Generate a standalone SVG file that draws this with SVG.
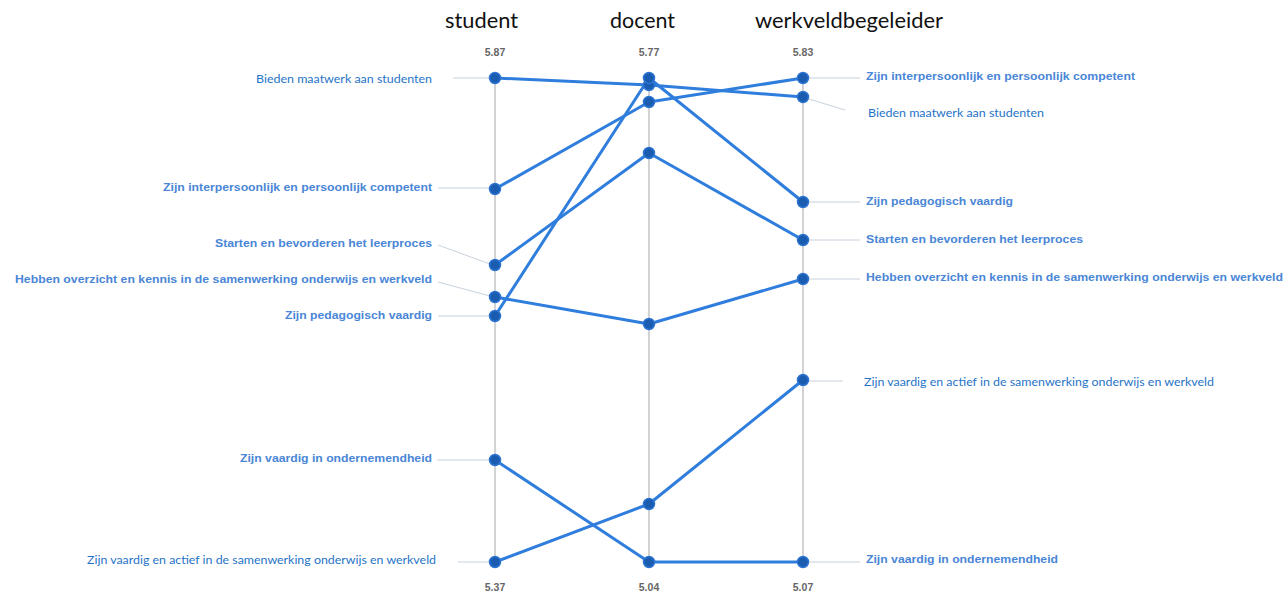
<svg xmlns="http://www.w3.org/2000/svg" width="1284" height="595" viewBox="0 0 1284 595">
  <style>
    .hdr { font-family: Lato, "Open Sans", sans-serif; font-size: 21px; fill: #111; text-anchor: middle; }
    .val { font-family: "Liberation Sans", Arial, sans-serif; font-size: 10.5px; font-weight: bold; fill: #666; text-anchor: middle; }
    .lbl { font-family: "Liberation Sans", Arial, sans-serif; font-size: 11px; font-weight: bold; fill: #4a86d6; }
    .lbl2 { font-family: Lato, "Open Sans", sans-serif; font-size: 12px; fill: #1f74c8; }
    .axis { stroke: #d3d3d6; stroke-width: 2; }
    .lead { stroke: #c8d2de; stroke-width: 1; fill: none; }
    .ser { stroke: #2f7ddc; stroke-width: 3; fill: none; stroke-linejoin: round; }
    .dot { fill: #1a5cb0; stroke: #2d74d2; stroke-width: 1.5; }
  </style>
  <rect width="1284" height="595" fill="#ffffff"/>

  <!-- column headers -->
  <g id="headers">
    <text class="hdr" x="481.5" y="28" textLength="73" lengthAdjust="spacingAndGlyphs">student</text>
    <text class="hdr" x="642.5" y="28" textLength="65" lengthAdjust="spacingAndGlyphs">docent</text>
    <text class="hdr" x="849" y="28" textLength="188" lengthAdjust="spacingAndGlyphs">werkveldbegeleider</text>
  </g>

  <!-- axes with extreme values -->
  <g id="axes">
    <line class="axis" x1="495" y1="78" x2="495" y2="562"/>
    <line class="axis" x1="649" y1="78" x2="649" y2="562"/>
    <line class="axis" x1="803" y1="78" x2="803" y2="562"/>
    <text class="val" x="495" y="56">5.87</text>
    <text class="val" x="649" y="56">5.77</text>
    <text class="val" x="803" y="56">5.83</text>
    <text class="val" x="495" y="591">5.37</text>
    <text class="val" x="649" y="591">5.04</text>
    <text class="val" x="803" y="591">5.07</text>
  </g>

  <!-- leader lines from labels to points, and the series lines -->
  <g id="connectors">
    <line class="lead" x1="453" y1="78" x2="490" y2="78"/>
    <line class="lead" x1="438" y1="188" x2="490" y2="188"/>
    <line class="lead" x1="438" y1="245" x2="490" y2="264"/>
    <line class="lead" x1="438" y1="282" x2="490" y2="296"/>
    <line class="lead" x1="438" y1="316" x2="490" y2="316"/>
    <line class="lead" x1="437" y1="460" x2="490" y2="460"/>
    <line class="lead" x1="458" y1="562" x2="490" y2="562"/>
    <line class="lead" x1="809" y1="78" x2="860" y2="78"/>
    <line class="lead" x1="809" y1="99" x2="845" y2="110"/>
    <line class="lead" x1="809" y1="202" x2="860" y2="202"/>
    <line class="lead" x1="809" y1="240" x2="860" y2="240"/>
    <line class="lead" x1="809" y1="279" x2="860" y2="279"/>
    <line class="lead" x1="809" y1="381" x2="843" y2="381"/>
    <line class="lead" x1="809" y1="562" x2="860" y2="562"/>

    <polyline class="ser" points="495,78 649,85 803,97"/>
    <polyline class="ser" points="495,189 649,102 803,78"/>
    <polyline class="ser" points="495,265 649,153 803,240"/>
    <polyline class="ser" points="495,297 649,324 803,279"/>
    <polyline class="ser" points="495,316 649,78 803,202"/>
    <polyline class="ser" points="495,460 649,562 803,562"/>
    <polyline class="ser" points="495,562 649,504 803,380"/>
  </g>

  <!-- Bieden maatwerk aan studenten -->
  <g id="bieden">
    <circle class="dot" cx="495" cy="78" r="5.5"/>
    <circle class="dot" cx="649" cy="85" r="5.5"/>
    <circle class="dot" cx="803" cy="97" r="5.5"/>
    <text class="lbl2" x="432" y="83" text-anchor="end" textLength="176" lengthAdjust="spacingAndGlyphs">Bieden maatwerk aan studenten</text>
    <text class="lbl2" x="868" y="117" textLength="176" lengthAdjust="spacingAndGlyphs">Bieden maatwerk aan studenten</text>
  </g>

  <!-- Zijn interpersoonlijk en persoonlijk competent -->
  <g id="interpersoonlijk">
    <circle class="dot" cx="495" cy="189" r="5.5"/>
    <circle class="dot" cx="649" cy="102" r="5.5"/>
    <circle class="dot" cx="803" cy="78" r="5.5"/>
    <text class="lbl" x="432" y="191" text-anchor="end" textLength="269" lengthAdjust="spacingAndGlyphs">Zijn interpersoonlijk en persoonlijk competent</text>
    <text class="lbl" x="866" y="80" textLength="269" lengthAdjust="spacingAndGlyphs">Zijn interpersoonlijk en persoonlijk competent</text>
  </g>

  <!-- Starten en bevorderen het leerproces -->
  <g id="starten">
    <circle class="dot" cx="495" cy="265" r="5.5"/>
    <circle class="dot" cx="649" cy="153" r="5.5"/>
    <circle class="dot" cx="803" cy="240" r="5.5"/>
    <text class="lbl" x="432" y="247" text-anchor="end" textLength="217" lengthAdjust="spacingAndGlyphs">Starten en bevorderen het leerproces</text>
    <text class="lbl" x="866" y="243" textLength="217" lengthAdjust="spacingAndGlyphs">Starten en bevorderen het leerproces</text>
  </g>

  <!-- Hebben overzicht en kennis in de samenwerking onderwijs en werkveld -->
  <g id="overzicht">
    <circle class="dot" cx="495" cy="297" r="5.5"/>
    <circle class="dot" cx="649" cy="324" r="5.5"/>
    <circle class="dot" cx="803" cy="279" r="5.5"/>
    <text class="lbl" x="432" y="283" text-anchor="end" textLength="417" lengthAdjust="spacingAndGlyphs">Hebben overzicht en kennis in de samenwerking onderwijs en werkveld</text>
    <text class="lbl" x="866" y="281" textLength="417" lengthAdjust="spacingAndGlyphs">Hebben overzicht en kennis in de samenwerking onderwijs en werkveld</text>
  </g>

  <!-- Zijn pedagogisch vaardig -->
  <g id="pedagogisch">
    <circle class="dot" cx="495" cy="316" r="5.5"/>
    <circle class="dot" cx="649" cy="78" r="5.5"/>
    <circle class="dot" cx="803" cy="202" r="5.5"/>
    <text class="lbl" x="432" y="319" text-anchor="end" textLength="147" lengthAdjust="spacingAndGlyphs">Zijn pedagogisch vaardig</text>
    <text class="lbl" x="866" y="205" textLength="147" lengthAdjust="spacingAndGlyphs">Zijn pedagogisch vaardig</text>
  </g>

  <!-- Zijn vaardig in ondernemendheid -->
  <g id="ondernemendheid">
    <circle class="dot" cx="495" cy="460" r="5.5"/>
    <circle class="dot" cx="649" cy="562" r="5.5"/>
    <circle class="dot" cx="803" cy="562" r="5.5"/>
    <text class="lbl" x="432" y="462" text-anchor="end" textLength="192" lengthAdjust="spacingAndGlyphs">Zijn vaardig in ondernemendheid</text>
    <text class="lbl" x="866" y="563" textLength="192" lengthAdjust="spacingAndGlyphs">Zijn vaardig in ondernemendheid</text>
  </g>

  <!-- Zijn vaardig en actief in de samenwerking onderwijs en werkveld -->
  <g id="samenwerking">
    <circle class="dot" cx="495" cy="562" r="5.5"/>
    <circle class="dot" cx="649" cy="504" r="5.5"/>
    <circle class="dot" cx="803" cy="380" r="5.5"/>
    <text class="lbl2" x="436" y="564" text-anchor="end" textLength="349" lengthAdjust="spacingAndGlyphs">Zijn vaardig en actief in de samenwerking onderwijs en werkveld</text>
    <text class="lbl2" x="864" y="386" textLength="350" lengthAdjust="spacingAndGlyphs">Zijn vaardig en actief in de samenwerking onderwijs en werkveld</text>
  </g>
</svg>
